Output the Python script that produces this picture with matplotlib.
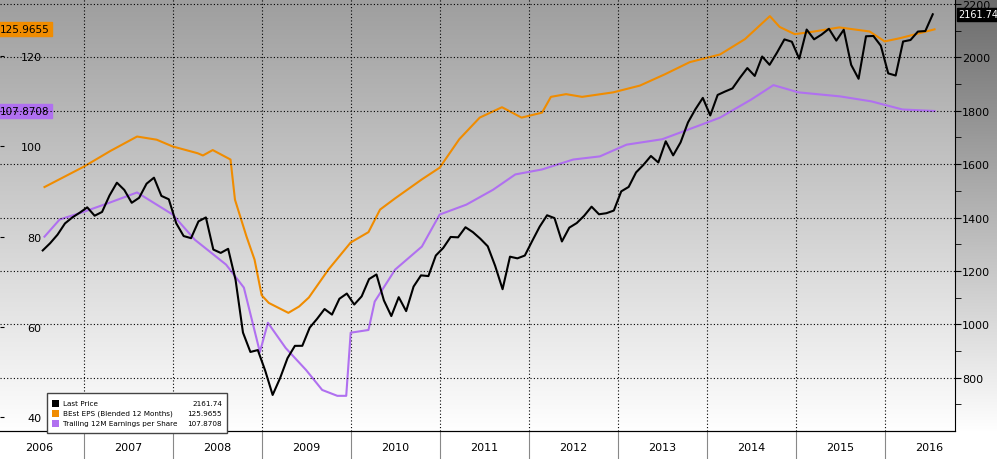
import numpy as np
import matplotlib
matplotlib.use("Agg")
import matplotlib.pyplot as plt
from matplotlib.patches import Rectangle

price = [1276.7,1303.8,1335.9,1377.9,1400.6,1418.3,
 1438.2,1406.8,1420.9,1482.4,1530.6,1503.4,1455.3,1474.0,1526.8,1549.4,1481.1,1468.4,
 1378.6,1330.6,1322.7,1385.6,1400.4,1280.0,1267.4,1282.8,1166.4,968.8,896.2,903.3,
 825.9,735.1,797.9,872.8,919.1,919.3,987.5,1020.6,1057.1,1036.2,1095.6,1115.1,
 1073.9,1104.5,1169.4,1186.7,1089.4,1030.7,1101.6,1049.3,1141.2,1183.3,1180.6,1257.6,
 1286.1,1327.2,1325.8,1363.6,1345.2,1320.6,1292.3,1218.9,1131.4,1253.3,1247.0,1257.6,
 1312.4,1365.7,1408.5,1397.9,1310.3,1362.2,1379.3,1406.6,1440.7,1412.2,1416.2,1426.2,
 1498.1,1514.7,1569.2,1597.6,1630.7,1606.3,1685.7,1633.0,1681.6,1756.5,1805.8,1848.4,
 1782.6,1859.5,1872.3,1884.0,1923.6,1960.2,1930.7,2003.4,1972.3,2018.1,2067.6,2058.9,
 1995.0,2104.5,2067.9,2085.5,2107.4,2063.1,2103.8,1972.2,1920.0,2079.4,2080.4,2043.9,
 1940.2,1932.2,2059.7,2065.3,2097.0,2098.9,2161.74]
price_t = [2006 + 6/12 + 0.04 + i/12 for i in range(len(price))]

best_t = [2006.56,2007.0,2007.3,2007.6,2007.82,2008.0,2008.28,2008.34,2008.45,2008.65,2008.7,
 2008.83,2008.92,2009.0,2009.08,2009.3,2009.42,2009.53,2009.75,2010.0,2010.2,2010.33,2010.5,
 2010.8,2011.0,2011.22,2011.45,2011.7,2011.92,2012.15,2012.25,2012.42,2012.6,2012.95,2013.25,
 2013.53,2013.81,2014.15,2014.43,2014.71,2014.82,2014.99,2015.21,2015.49,2015.83,2016.0,2016.17,2016.56]
best = [91.0,95.5,99.0,102.2,101.5,100.0,98.5,98.0,99.2,97.1,88.2,80.0,74.9,67.0,65.3,63.1,64.5,
 66.5,72.7,78.7,81.0,86.0,88.5,92.7,95.3,101.6,106.4,108.7,106.4,107.5,111.0,111.6,111.0,112.0,
 113.5,116.0,118.7,120.4,123.8,128.9,126.5,124.9,125.5,126.4,125.5,123.3,124.0,125.97]

trail_t = [2006.56,2006.73,2007.0,2007.3,2007.6,2008.0,2008.25,2008.6,2008.8,2008.98,2009.07,
 2009.27,2009.5,2009.68,2009.85,2009.95,2010.0,2010.2,2010.27,2010.5,2010.8,2011.0,2011.3,
 2011.6,2011.85,2012.15,2012.5,2012.8,2013.1,2013.5,2013.95,2014.15,2014.5,2014.75,2015.03,
 2015.5,2015.85,2016.2,2016.56]
trail = [80.0,83.8,85.5,87.6,89.8,84.9,79.3,73.8,68.7,54.4,60.9,55.3,50.4,46.0,44.7,44.7,58.7,
 59.3,65.6,72.7,77.8,84.9,87.1,90.4,93.8,94.9,97.1,97.8,100.4,101.6,104.9,106.4,110.4,113.6,
 112.0,111.1,110.0,108.2,107.87]

years = list(range(2006, 2017))

W, H = 997, 460
fig = plt.figure(figsize=(W/100, H/100), dpi=100)
bg = fig.add_axes([0, 0, 1, 1], zorder=-10)
img = np.ones((H, W, 3))
ybot = 432
pr = 955
for r in range(ybot):
    f = r / ybot
    img[r, :pr] = 0.62 + 0.38 * f
    img[r, pr:] = 0.42 + 0.58 * f
bg.imshow(img, aspect='auto', extent=[0, W, H, 0])
bg.set_xlim(0, W); bg.set_ylim(H, 0); bg.axis('off')

ax = fig.add_axes([0, (H-ybot)/H, pr/W, ybot/H])
ax.patch.set_alpha(0)
ax2 = ax.twinx()
ax2.patch.set_alpha(0)

x0 = 2006.06; x1 = 2016.79
ax.set_xlim(x0, x1)
ax.set_ylim(36.9, 132.7)
ax2.set_ylim(600, 2219)

ax.plot(best_t, best, color='#f08c00', lw=1.5, zorder=3)
ax.plot(trail_t, trail, color='#b070f0', lw=1.5, zorder=3)
ax2.plot(price_t, price, color='black', lw=1.5, zorder=4)

ax.set_yticks([40, 60, 80, 100, 120])
ax.tick_params(axis='y', direction='in', pad=-30, labelsize=8, length=3)
ax2.set_yticks(range(800, 2201, 200))
ax2.set_yticks(range(700, 2201, 100), minor=True)
ax2.tick_params(axis='y', which='both', direction='out', labelsize=8, length=4, pad=1)
for v in range(800, 2201, 200):
    ax2.axhline(v, color='black', lw=0.8, ls=(0, (1, 2)), zorder=1)
for y in years[1:]:
    ax.axvline(y, color='black', lw=0.8, ls=(0, (1, 2)), zorder=1)

ax.set_xticks(years[1:])
ax.set_xticklabels([])
ax.tick_params(axis='x', which='major', length=20, color='#888888', direction='out')
ax.set_xticks([y + 0.5 for y in years], minor=True)
ax.set_xticklabels([str(y) for y in years], minor=True)
ax.tick_params(axis='x', which='minor', length=0, labelsize=8, pad=8)
for s in ['top', 'left']:
    ax.spines[s].set_visible(False)
    ax2.spines[s].set_visible(False)
ax.spines['right'].set_visible(False)

# value tags
ax2.annotate('2161.74', xy=(1.0, 2161.74), xycoords=('axes fraction', 'data'), xytext=(2.5, 0),
             textcoords='offset points', va='center', ha='left', fontsize=7, color='white',
             bbox=dict(boxstyle='square,pad=0.15', fc='black', ec='black'))
ax.annotate('125.9655', xy=(0, 125.97), xycoords=('axes fraction', 'data'), va='center', ha='left',
            fontsize=7.5, color='black', bbox=dict(boxstyle='square,pad=0.2', fc='#f08c00', ec='#f08c00'))
ax.annotate('107.8708', xy=(0, 107.87), xycoords=('axes fraction', 'data'), va='center', ha='left',
            fontsize=7.5, color='black', bbox=dict(boxstyle='square,pad=0.2', fc='#b070f0', ec='#b070f0'))

# legend
lx, ly, lw_, lh = 47/W, (H-434)/H, 180/W, 40/H
fig.patches.append(Rectangle((lx, ly), lw_, lh, transform=fig.transFigure, fc='white', ec='#444444', lw=1, zorder=5))
names = ['Last Price', 'BEst EPS (Blended 12 Months)', 'Trailing 12M Earnings per Share']
vals = ['2161.74', '125.9655', '107.8708']
cols = ['black', '#f08c00', '#b070f0']
for i in range(3):
    yy = (H - (404 + i*10)) / H
    fig.patches.append(Rectangle((52/W, yy - 3.5/H), 7/W, 7/H, transform=fig.transFigure, fc=cols[i], ec='none', zorder=6))
    fig.text(63/W, yy, names[i], fontsize=5.2, va='center', ha='left', zorder=7)
    fig.text(222/W, yy, vals[i], fontsize=5.2, va='center', ha='right', zorder=7)

fig.savefig('out.png', dpi=100)
